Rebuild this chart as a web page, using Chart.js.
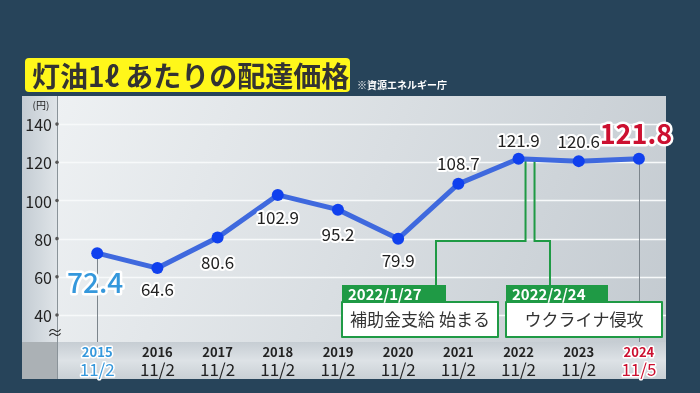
<!DOCTYPE html>
<html>
<head>
<meta charset="utf-8">
<script src="https://cdn.jsdelivr.net/npm/chart.js@4.4.1/dist/chart.umd.min.js"></script>
<style>
  body { margin: 0; background: #27445a; }
  canvas { display: block; }
</style>
</head>
<body>
<canvas id="myChart" width="700" height="393"></canvas>
<script>
  // chart data
  var years = ['2015', '2016', '2017', '2018', '2019', '2020', '2021', '2022', '2023', '2024'];
  var dates = ['11/2', '11/2', '11/2', '11/2', '11/2', '11/2', '11/2', '11/2', '11/2', '11/5'];
  var prices = [72.4, 64.6, 80.6, 102.9, 95.2, 79.9, 108.7, 121.9, 120.6, 121.8];
  var yTicks = [40, 60, 80, 100, 120, 140];
  // label offset above (-) or below (+) the point
  var labelOffsets = [29, 21, 25, 23, 25, 22, -20, -18, -20, -25];

  var JP = '"Noto Sans CJK JP", "Noto Sans", sans-serif';
  var ctx = document.getElementById('myChart').getContext('2d');

  function haloText(c, text, x, y, font, color, halo) {
    c.font = font;
    c.textAlign = 'center';
    c.textBaseline = 'middle';
    c.lineJoin = 'round';
    c.strokeStyle = '#ffffff';
    c.lineWidth = halo;
    if (halo > 0) c.strokeText(text, x, y);
    c.fillStyle = color;
    c.fillText(text, x, y);
  }

  var backdrop = {
    id: 'backdrop',
    beforeDraw: function (chart) {
      var c = chart.ctx, a = chart.chartArea;
      var x = chart.scales.x, y = chart.scales.y;
      c.save();
      c.fillStyle = '#27445a';
      c.fillRect(0, 0, chart.width, chart.height);

      // title
      c.fillStyle = '#fff71a';
      c.beginPath();
      c.roundRect(25, 58, 325, 34, 4);
      c.fill();
      c.fillStyle = '#333333';
      c.font = 'bold 28px ' + JP;
      c.textAlign = 'left';
      c.textBaseline = 'middle';
      c.fillText('灯油1ℓ あたりの配達価格', 32, 76);
      c.fillStyle = '#ffffff';
      c.font = 'bold 10px ' + JP;
      c.fillText('※資源エネルギー庁', 357, 85);

      // panel
      var g = c.createLinearGradient(a.left, a.top, a.right, a.bottom);
      g.addColorStop(0, '#eef1f3');
      g.addColorStop(0.5, '#d9dee2');
      g.addColorStop(1, '#c3cad0');
      c.fillStyle = g;
      c.fillRect(a.left, a.top, a.right - a.left, a.bottom - a.top);

      // y gutter
      var gg = c.createLinearGradient(22, 0, a.left, 0);
      gg.addColorStop(0, '#c4ccd3');
      gg.addColorStop(1, '#dfe4e8');
      c.fillStyle = gg;
      c.fillRect(22, a.top, a.left - 22, a.bottom - a.top);

      // bottom band
      var bg = c.createLinearGradient(0, a.bottom, 0, 379);
      bg.addColorStop(0, '#c6cdd3');
      bg.addColorStop(0.5, '#dde2e6');
      bg.addColorStop(1, '#c9d0d5');
      c.fillStyle = bg;
      c.fillRect(a.left, a.bottom, a.right - a.left, 379 - a.bottom);
      c.fillStyle = '#abb1b5';
      c.fillRect(22, a.bottom, a.left - 22, 379 - a.bottom);

      c.strokeStyle = '#8a9399';
      c.lineWidth = 1;
      c.beginPath();
      c.moveTo(a.left + 0.5, a.top);
      c.lineTo(a.left + 0.5, 379);
      c.stroke();

      // grid
      c.strokeStyle = '#f7f9fa';
      c.lineWidth = 1.5;
      yTicks.forEach(function (t) {
        var py = Math.round(y.getPixelForValue(t)) + 0.5;
        c.beginPath();
        c.moveTo(a.left, py);
        c.lineTo(a.right, py);
        c.stroke();
      });

      // y tick labels
      yTicks.forEach(function (t) {
        var py = y.getPixelForValue(t);
        c.fillStyle = '#222222';
        c.font = '16px ' + JP;
        c.textAlign = 'right';
        c.textBaseline = 'middle';
        c.fillText(String(t), 52, py + 1);
        c.fillStyle = '#555555';
        c.beginPath();
        c.arc(a.left, py, 1.8, 0, Math.PI * 2);
        c.fill();
      });
      c.fillStyle = '#222222';
      c.font = '10px ' + JP;
      c.textAlign = 'center';
      c.fillText('(円)', 41, 105);
      c.font = '16px ' + JP;
      c.fillText('≈', 55, 332);

      // drop lines for first and last point
      c.strokeStyle = '#7c858c';
      c.lineWidth = 1;
      [0, prices.length - 1].forEach(function (i) {
        var px = Math.round(x.getPixelForValue(i)) + 0.5;
        c.beginPath();
        c.moveTo(px, y.getPixelForValue(prices[i]));
        c.lineTo(px, a.bottom);
        c.stroke();
      });

      // callout connectors
      var p22x = x.getPixelForValue(7), p22y = y.getPixelForValue(prices[7]);
      c.strokeStyle = '#1f9a45';
      c.lineWidth = 2;
      c.beginPath();
      c.moveTo(p22x + 7, p22y);
      c.lineTo(p22x + 7, 241);
      c.lineTo(436, 241);
      c.lineTo(436, 286);
      c.moveTo(p22x + 16, p22y);
      c.lineTo(p22x + 16, 241);
      c.lineTo(550, 241);
      c.lineTo(550, 286);
      c.stroke();

      // x labels
      years.forEach(function (yr, i) {
        var px = x.getPixelForValue(i);
        var col = '#222222', halo = 0;
        if (i === 0) { col = '#3598dc'; halo = 3; }
        if (i === years.length - 1) { col = '#cc1030'; halo = 3; }
        haloText(c, yr, px, 352, 'bold 13px ' + JP, col, halo);
        haloText(c, dates[i], px, 370, '17px ' + JP, col, halo);
      });
      c.restore();
    }
  };

  var overlay = {
    id: 'overlay',
    afterDraw: function (chart) {
      var c = chart.ctx;
      var x = chart.scales.x, y = chart.scales.y;
      c.save();
      prices.forEach(function (v, i) {
        var px = x.getPixelForValue(i), py = y.getPixelForValue(v) + labelOffsets[i];
        if (i === 0) {
          haloText(c, v.toFixed(1), px - 2, py, '500 28px ' + JP, '#3598dc', 5);
        } else if (i === prices.length - 1) {
          haloText(c, v.toFixed(1), px - 3, py, 'bold 27px ' + JP, '#cc1030', 5);
        } else {
          haloText(c, v.toFixed(1), px, py, '17px ' + JP, '#222222', 4);
        }
      });

      // callout boxes
      function callout(x0, hw, bw, head, body) {
        c.fillStyle = '#1f9a45';
        c.fillRect(x0, 285, hw, 17);
        c.fillStyle = '#ffffff';
        c.fillRect(x0, 302, bw, 35);
        c.strokeStyle = '#1f9a45';
        c.lineWidth = 2;
        c.strokeRect(x0, 302, bw, 35);
        c.fillStyle = '#ffffff';
        c.font = 'bold 15px ' + JP;
        c.textAlign = 'left';
        c.textBaseline = 'middle';
        c.fillText(head, x0 + 6, 294);
        c.fillStyle = '#333333';
        c.font = '17px ' + JP;
        c.textAlign = 'center';
        c.fillText(body, x0 + bw / 2, 320);
      }
      callout(342, 104, 156, '2022/1/27', '補助金支給 始まる');
      callout(506, 102, 156, '2022/2/24', 'ウクライナ侵攻');
      c.restore();
    }
  };

  var chart = new Chart(ctx, {
    type: 'line',
    data: {
      datasets: [{
        data: prices.map(function (v, i) { return { x: i, y: v }; }),
        borderColor: '#3f69de',
        borderWidth: 5,
        pointRadius: 6,
        pointBackgroundColor: '#1040ee',
        pointBorderWidth: 0,
        tension: 0
      }]
    },
    options: {
      responsive: false,
      animation: false,
      devicePixelRatio: 1,
      layout: { padding: { left: 57, top: 96, right: 34, bottom: 51 } },
      plugins: { legend: { display: false }, tooltip: { enabled: false } },
      scales: {
        x: { type: 'linear', display: false, min: -0.668, max: 9.45 },
        y: { type: 'linear', display: false, min: 25.9, max: 154.7 }
      }
    },
    plugins: [backdrop, overlay]
  });
</script>
</body>
</html>
